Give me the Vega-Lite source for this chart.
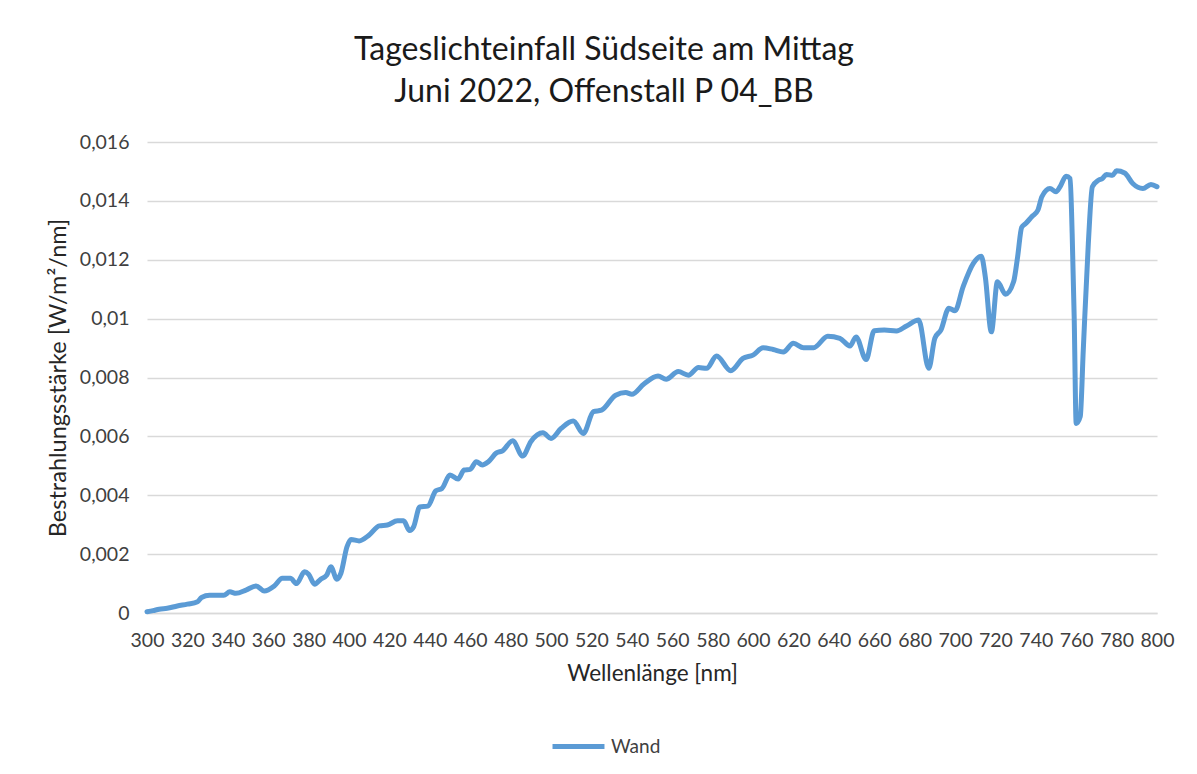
{
  "$schema": "https://vega.github.io/schema/vega-lite/v6.json",
  "autosize": "none",
  "width": 1010,
  "height": 471,
  "padding": {"left": 147, "top": 142, "right": 40, "bottom": 161},
  "background": "white",
  "config": {
    "view": {"stroke": null},
    "font": "Lato"
  },
  "title": {
    "text": ["Tageslichteinfall Südseite am Mittag", "Juni 2022, Offenstall P 04_BB"],
    "font": "Lato",
    "fontSize": 32,
    "fontWeight": "normal",
    "color": "#1a1a1a",
    "lineHeight": 42,
    "anchor": "middle",
    "dx": -48,
    "offset": 23
  },
  "data": {
    "values": [
      {"nm": 300, "value": 0.00004, "series": "Wand"},
      {"nm": 303, "value": 0.00008, "series": "Wand"},
      {"nm": 306, "value": 0.00013, "series": "Wand"},
      {"nm": 310, "value": 0.00016, "series": "Wand"},
      {"nm": 315, "value": 0.00024, "series": "Wand"},
      {"nm": 320, "value": 0.0003, "series": "Wand"},
      {"nm": 325, "value": 0.00038, "series": "Wand"},
      {"nm": 327, "value": 0.00053, "series": "Wand"},
      {"nm": 331, "value": 0.0006, "series": "Wand"},
      {"nm": 338, "value": 0.0006, "series": "Wand"},
      {"nm": 341, "value": 0.00072, "series": "Wand"},
      {"nm": 344, "value": 0.00067, "series": "Wand"},
      {"nm": 349, "value": 0.00078, "series": "Wand"},
      {"nm": 354, "value": 0.00092, "series": "Wand"},
      {"nm": 358, "value": 0.00075, "series": "Wand"},
      {"nm": 363, "value": 0.00092, "series": "Wand"},
      {"nm": 367, "value": 0.00118, "series": "Wand"},
      {"nm": 371, "value": 0.00118, "series": "Wand"},
      {"nm": 374, "value": 0.001, "series": "Wand"},
      {"nm": 378, "value": 0.0014, "series": "Wand"},
      {"nm": 380, "value": 0.00132, "series": "Wand"},
      {"nm": 383, "value": 0.00098, "series": "Wand"},
      {"nm": 386, "value": 0.00115, "series": "Wand"},
      {"nm": 389, "value": 0.00129, "series": "Wand"},
      {"nm": 391, "value": 0.00157, "series": "Wand"},
      {"nm": 394, "value": 0.00115, "series": "Wand"},
      {"nm": 396, "value": 0.00135, "series": "Wand"},
      {"nm": 399, "value": 0.00225, "series": "Wand"},
      {"nm": 401, "value": 0.0025, "series": "Wand"},
      {"nm": 405, "value": 0.00245, "series": "Wand"},
      {"nm": 410, "value": 0.00265, "series": "Wand"},
      {"nm": 415, "value": 0.00296, "series": "Wand"},
      {"nm": 419, "value": 0.00299, "series": "Wand"},
      {"nm": 424, "value": 0.00313, "series": "Wand"},
      {"nm": 427, "value": 0.00313, "series": "Wand"},
      {"nm": 430, "value": 0.0028, "series": "Wand"},
      {"nm": 432, "value": 0.00293, "series": "Wand"},
      {"nm": 435, "value": 0.0036, "series": "Wand"},
      {"nm": 439, "value": 0.00363, "series": "Wand"},
      {"nm": 443, "value": 0.00415, "series": "Wand"},
      {"nm": 446, "value": 0.00423, "series": "Wand"},
      {"nm": 450, "value": 0.00469, "series": "Wand"},
      {"nm": 454, "value": 0.00455, "series": "Wand"},
      {"nm": 457, "value": 0.00486, "series": "Wand"},
      {"nm": 460, "value": 0.00488, "series": "Wand"},
      {"nm": 463, "value": 0.00514, "series": "Wand"},
      {"nm": 466, "value": 0.00503, "series": "Wand"},
      {"nm": 469, "value": 0.00514, "series": "Wand"},
      {"nm": 473, "value": 0.00544, "series": "Wand"},
      {"nm": 476, "value": 0.00551, "series": "Wand"},
      {"nm": 481, "value": 0.00585, "series": "Wand"},
      {"nm": 486, "value": 0.00533, "series": "Wand"},
      {"nm": 490, "value": 0.00582, "series": "Wand"},
      {"nm": 496, "value": 0.00612, "series": "Wand"},
      {"nm": 500, "value": 0.00593, "series": "Wand"},
      {"nm": 505, "value": 0.00627, "series": "Wand"},
      {"nm": 511, "value": 0.00652, "series": "Wand"},
      {"nm": 516, "value": 0.0061, "series": "Wand"},
      {"nm": 521, "value": 0.00684, "series": "Wand"},
      {"nm": 525, "value": 0.00689, "series": "Wand"},
      {"nm": 532, "value": 0.0074, "series": "Wand"},
      {"nm": 537, "value": 0.00749, "series": "Wand"},
      {"nm": 540, "value": 0.00743, "series": "Wand"},
      {"nm": 546, "value": 0.00778, "series": "Wand"},
      {"nm": 553, "value": 0.00805, "series": "Wand"},
      {"nm": 557, "value": 0.00794, "series": "Wand"},
      {"nm": 563, "value": 0.0082, "series": "Wand"},
      {"nm": 568, "value": 0.00808, "series": "Wand"},
      {"nm": 573, "value": 0.00834, "series": "Wand"},
      {"nm": 577, "value": 0.00831, "series": "Wand"},
      {"nm": 582, "value": 0.00873, "series": "Wand"},
      {"nm": 589, "value": 0.00823, "series": "Wand"},
      {"nm": 595, "value": 0.00865, "series": "Wand"},
      {"nm": 600, "value": 0.00876, "series": "Wand"},
      {"nm": 605, "value": 0.00901, "series": "Wand"},
      {"nm": 610, "value": 0.00895, "series": "Wand"},
      {"nm": 615, "value": 0.00887, "series": "Wand"},
      {"nm": 620, "value": 0.00916, "series": "Wand"},
      {"nm": 625, "value": 0.00901, "series": "Wand"},
      {"nm": 630, "value": 0.00901, "series": "Wand"},
      {"nm": 637, "value": 0.0094, "series": "Wand"},
      {"nm": 643, "value": 0.00933, "series": "Wand"},
      {"nm": 648, "value": 0.00907, "series": "Wand"},
      {"nm": 651, "value": 0.00938, "series": "Wand"},
      {"nm": 656, "value": 0.00861, "series": "Wand"},
      {"nm": 660, "value": 0.00959, "series": "Wand"},
      {"nm": 665, "value": 0.00961, "series": "Wand"},
      {"nm": 671, "value": 0.00958, "series": "Wand"},
      {"nm": 676, "value": 0.00975, "series": "Wand"},
      {"nm": 682, "value": 0.00995, "series": "Wand"},
      {"nm": 687, "value": 0.00831, "series": "Wand"},
      {"nm": 690, "value": 0.00933, "series": "Wand"},
      {"nm": 693, "value": 0.00961, "series": "Wand"},
      {"nm": 697, "value": 0.01035, "series": "Wand"},
      {"nm": 700, "value": 0.01027, "series": "Wand"},
      {"nm": 704, "value": 0.01108, "series": "Wand"},
      {"nm": 709, "value": 0.01187, "series": "Wand"},
      {"nm": 713, "value": 0.01212, "series": "Wand"},
      {"nm": 715, "value": 0.01142, "series": "Wand"},
      {"nm": 718, "value": 0.00955, "series": "Wand"},
      {"nm": 721, "value": 0.01125, "series": "Wand"},
      {"nm": 725, "value": 0.01083, "series": "Wand"},
      {"nm": 729, "value": 0.01125, "series": "Wand"},
      {"nm": 731, "value": 0.0121, "series": "Wand"},
      {"nm": 733, "value": 0.0131, "series": "Wand"},
      {"nm": 735, "value": 0.01323, "series": "Wand"},
      {"nm": 738, "value": 0.01346, "series": "Wand"},
      {"nm": 741, "value": 0.01368, "series": "Wand"},
      {"nm": 743, "value": 0.01414, "series": "Wand"},
      {"nm": 747, "value": 0.01442, "series": "Wand"},
      {"nm": 750, "value": 0.01431, "series": "Wand"},
      {"nm": 752, "value": 0.01448, "series": "Wand"},
      {"nm": 755, "value": 0.01484, "series": "Wand"},
      {"nm": 757, "value": 0.01476, "series": "Wand"},
      {"nm": 758, "value": 0.01289, "series": "Wand"},
      {"nm": 759, "value": 0.01006, "series": "Wand"},
      {"nm": 760, "value": 0.00644, "series": "Wand"},
      {"nm": 762, "value": 0.00667, "series": "Wand"},
      {"nm": 763.5, "value": 0.00893, "series": "Wand"},
      {"nm": 766, "value": 0.01255, "series": "Wand"},
      {"nm": 768, "value": 0.01448, "series": "Wand"},
      {"nm": 771, "value": 0.0147, "series": "Wand"},
      {"nm": 773, "value": 0.01476, "series": "Wand"},
      {"nm": 775, "value": 0.0149, "series": "Wand"},
      {"nm": 778, "value": 0.01487, "series": "Wand"},
      {"nm": 780, "value": 0.01502, "series": "Wand"},
      {"nm": 784, "value": 0.01495, "series": "Wand"},
      {"nm": 788, "value": 0.01459, "series": "Wand"},
      {"nm": 793, "value": 0.01442, "series": "Wand"},
      {"nm": 797, "value": 0.01456, "series": "Wand"},
      {"nm": 800, "value": 0.01448, "series": "Wand"}
    ]
  },
  "mark": {"type": "line", "strokeWidth": 5, "strokeCap": "round", "strokeJoin": "round", "interpolate": "monotone"},
  "encoding": {
    "x": {
      "field": "nm",
      "type": "quantitative",
      "scale": {"domain": [300, 800], "nice": false},
      "axis": {
        "title": "Wellenlänge [nm]",
        "values": [300,320,340,360,380,400,420,440,460,480,500,520,540,560,580,600,620,640,660,680,700,720,740,760,780,800],
        "grid": false,
        "domain": true,
        "domainColor": "#D9D9D9",
        "domainWidth": 1.5,
        "ticks": false,
        "labelFont": "Lato",
        "labelFontSize": 19.5,
        "labelColor": "#404040",
        "labelPadding": 18,
        "labelOverlap": false,
        "labelFlush": false,
        "titleFont": "Lato",
        "titleFontSize": 22.5,
        "titleFontWeight": "normal",
        "titleColor": "#262626",
        "titlePadding": 13
      }
    },
    "y": {
      "field": "value",
      "type": "quantitative",
      "scale": {"domain": [0, 0.016], "nice": false},
      "axis": {
        "title": "Bestrahlungsstärke [W/m²/nm]",
        "values": [0, 0.002, 0.004, 0.006, 0.008, 0.01, 0.012, 0.014, 0.016],
        "labelExpr": "replace(format(datum.value, '.3~f'), '.', ',')",
        "grid": true,
        "gridColor": "#D9D9D9",
        "gridWidth": 1.5,
        "domain": false,
        "ticks": false,
        "labelFont": "Lato",
        "labelFontSize": 19.5,
        "labelColor": "#404040",
        "labelPadding": 18,
        "titleFont": "Lato",
        "titleFontSize": 23.5,
        "titleFontWeight": "normal",
        "titleColor": "#262626",
        "titlePadding": 9
      }
    },
    "color": {
      "field": "series",
      "type": "nominal",
      "scale": {"range": ["#5B9BD5"]},
      "legend": {
        "title": null,
        "orient": "none",
        "legendX": 403,
        "legendY": 576,
        "symbolType": "stroke",
        "symbolStrokeWidth": 5,
        "symbolSize": 2700,
        "labelFont": "Lato",
        "labelFontSize": 19,
        "labelColor": "#404040",
        "labelOffset": 4
      }
    }
  }
}
